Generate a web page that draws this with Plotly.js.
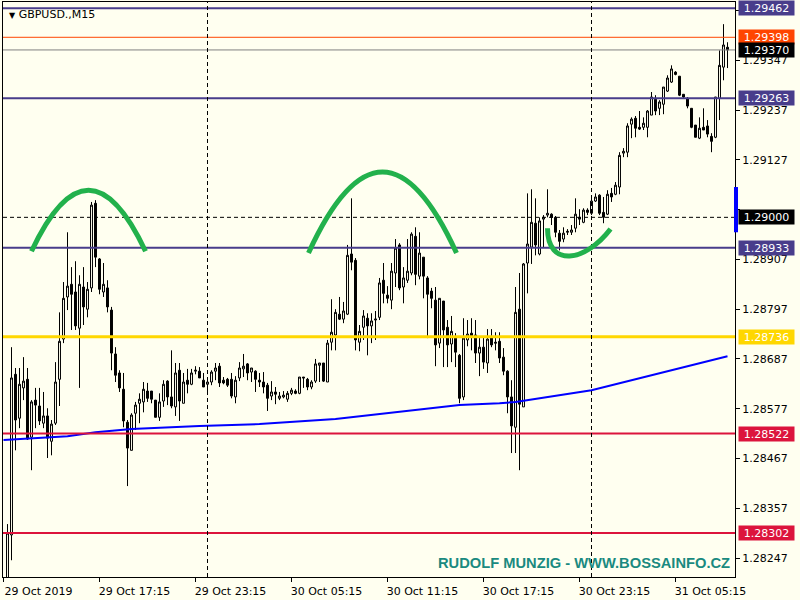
<!DOCTYPE html>
<html>
<head>
<meta charset="utf-8">
<script src="https://cdn.plot.ly/plotly-3.0.1.min.js"></script>
<style>html,body{margin:0;padding:0;background:#FFFFF0;}#chart{width:800px;height:600px;}</style>
</head>
<body>
<div id="chart"></div>
<script>
// GBPUSD M15 candles, 29 Oct 11:30 -> 31 Oct 08:30
const openP = [1.28176,1.28298,1.28653,1.28556,1.28623,1.28642,1.28514,1.28596,1.28583,1.28545,1.28561,1.28505,1.28545,1.28642,1.28731,1.28824,1.28852,1.28835,1.28755,1.28846,1.28797,1.28844,1.29031,1.28908,1.28835,1.28844,1.28795,1.28698,1.28656,1.28620,1.28547,1.28485,1.28567,1.28589,1.28592,1.28616,1.28616,1.28596,1.28558,1.28594,1.28638,1.28603,1.28581,1.28662,1.28589,1.28640,1.28631,1.28660,1.28660,1.28640,1.28631,1.28636,1.28660,1.28671,1.28640,1.28642,1.28642,1.28603,1.28645,1.28665,1.28676,1.28658,1.28660,1.28640,1.28636,1.28629,1.28605,1.28614,1.28600,1.28603,1.28598,1.28611,1.28616,1.28611,1.28647,1.28642,1.28625,1.28638,1.28673,1.28678,1.28636,1.28724,1.28740,1.28786,1.28775,1.28786,1.28919,1.28905,1.28724,1.28757,1.28777,1.28760,1.28773,1.28779,1.28861,1.28828,1.28817,1.28877,1.28939,1.28846,1.28861,1.28877,1.28958,1.28870,1.28912,1.28866,1.28837,1.28817,1.28722,1.28815,1.28757,1.28720,1.28733,1.28695,1.28603,1.28729,1.28744,1.28740,1.28700,1.28713,1.28678,1.28735,1.28724,1.28726,1.28691,1.28660,1.28603,1.28536,1.28797,1.28581,1.28899,1.28934,1.28987,1.28919,1.28996,1.29005,1.29007,1.29000,1.28965,1.28952,1.28967,1.28967,1.28976,1.29000,1.28989,1.29016,1.29009,1.29036,1.29049,1.29011,1.29007,1.29053,1.29051,1.29067,1.29142,1.29144,1.29206,1.29219,1.29199,1.29199,1.29199,1.29226,1.29261,1.29241,1.29250,1.29279,1.29299,1.29321,1.29312,1.29272,1.29263,1.29241,1.29204,1.29175,1.29199,1.29202,1.29179,1.29177,1.29263,1.29332,1.29376];
const highP = [1.28322,1.28713,1.28667,1.28667,1.28691,1.28667,1.28596,1.28623,1.28623,1.28614,1.28578,1.28552,1.28680,1.28790,1.28857,1.28967,1.28890,1.28903,1.28872,1.28890,1.28857,1.29034,1.29038,1.28910,1.28899,1.28861,1.28802,1.28713,1.28662,1.28656,1.28552,1.28567,1.28592,1.28611,1.28636,1.28634,1.28616,1.28596,1.28611,1.28640,1.28640,1.28706,1.28678,1.28678,1.28656,1.28665,1.28665,1.28671,1.28669,1.28656,1.28645,1.28662,1.28678,1.28678,1.28647,1.28645,1.28656,1.28649,1.28680,1.28698,1.28678,1.28667,1.28662,1.28656,1.28658,1.28634,1.28638,1.28625,1.28614,1.28616,1.28616,1.28623,1.28620,1.28647,1.28647,1.28645,1.28640,1.28687,1.28678,1.28678,1.28729,1.28819,1.28797,1.28824,1.28813,1.28939,1.29042,1.28910,1.28762,1.28795,1.28788,1.28788,1.28793,1.28866,1.28899,1.28848,1.28899,1.28952,1.28943,1.28890,1.28952,1.28967,1.28978,1.28967,1.28912,1.28870,1.28844,1.28846,1.28821,1.28815,1.28773,1.28782,1.28744,1.28698,1.28777,1.28773,1.28777,1.28773,1.28737,1.28735,1.28753,1.28753,1.28746,1.28746,1.28711,1.28662,1.28640,1.28846,1.28877,1.28899,1.29053,1.29062,1.29042,1.29000,1.29005,1.29062,1.29009,1.29003,1.28972,1.28978,1.28974,1.28983,1.29042,1.29018,1.29020,1.29020,1.29049,1.29053,1.29051,1.29045,1.29060,1.29065,1.29078,1.29144,1.29153,1.29208,1.29221,1.29224,1.29235,1.29221,1.29237,1.29277,1.29270,1.29259,1.29288,1.29314,1.29336,1.29323,1.29312,1.29272,1.29266,1.29241,1.29204,1.29221,1.29241,1.29215,1.29186,1.29266,1.29369,1.29427,1.29387];
const lowP = [1.28154,1.28242,1.28485,1.28534,1.28596,1.28508,1.28441,1.28534,1.28541,1.28534,1.28468,1.28474,1.28541,1.28583,1.28722,1.28795,1.28751,1.28751,1.28623,1.28762,1.28779,1.28835,1.28890,1.28830,1.28824,1.28790,1.28662,1.28636,1.28614,1.28536,1.28406,1.28485,1.28530,1.28545,1.28569,1.28592,1.28589,1.28558,1.28550,1.28581,1.28585,1.28578,1.28561,1.28550,1.28589,1.28611,1.28629,1.28653,1.28645,1.28625,1.28609,1.28629,1.28640,1.28625,1.28631,1.28625,1.28600,1.28589,1.28638,1.28647,1.28640,1.28636,1.28614,1.28625,1.28611,1.28572,1.28596,1.28587,1.28596,1.28600,1.28592,1.28607,1.28609,1.28609,1.28623,1.28618,1.28620,1.28634,1.28636,1.28636,1.28636,1.28706,1.28706,1.28773,1.28766,1.28784,1.28883,1.28706,1.28704,1.28729,1.28695,1.28722,1.28729,1.28773,1.28810,1.28810,1.28797,1.28846,1.28839,1.28810,1.28855,1.28872,1.28850,1.28863,1.28821,1.28733,1.28799,1.28671,1.28711,1.28669,1.28669,1.28680,1.28669,1.28589,1.28596,1.28715,1.28706,1.28678,1.28649,1.28665,1.28656,1.28713,1.28706,1.28678,1.28651,1.28567,1.28479,1.28479,1.28441,1.28581,1.28832,1.28897,1.28916,1.28916,1.28934,1.29000,1.28983,1.28956,1.28927,1.28945,1.28961,1.28961,1.28967,1.28983,1.28987,1.29005,1.29005,1.29034,1.29005,1.28987,1.29005,1.29034,1.29049,1.29051,1.29133,1.29133,1.29175,1.29177,1.29193,1.29193,1.29177,1.29226,1.29226,1.29226,1.29228,1.29277,1.29297,1.29314,1.29268,1.29263,1.29241,1.29197,1.29177,1.29173,1.29193,1.29177,1.29144,1.29175,1.29215,1.29303,1.29330];
const closeP = [1.28302,1.28645,1.28552,1.28631,1.28638,1.28510,1.28592,1.28585,1.28550,1.28561,1.28512,1.28543,1.28636,1.28726,1.28821,1.28848,1.28830,1.28760,1.28852,1.28802,1.28841,1.29027,1.28912,1.28841,1.28852,1.28802,1.28700,1.28651,1.28623,1.28550,1.28490,1.28563,1.28585,1.28598,1.28620,1.28600,1.28598,1.28558,1.28592,1.28631,1.28603,1.28583,1.28656,1.28594,1.28636,1.28631,1.28656,1.28662,1.28645,1.28625,1.28636,1.28658,1.28667,1.28634,1.28634,1.28629,1.28605,1.28640,1.28667,1.28671,1.28656,1.28667,1.28642,1.28636,1.28625,1.28600,1.28614,1.28609,1.28605,1.28607,1.28611,1.28618,1.28611,1.28647,1.28645,1.28625,1.28636,1.28676,1.28678,1.28638,1.28722,1.28746,1.28790,1.28775,1.28793,1.28916,1.28901,1.28729,1.28748,1.28782,1.28760,1.28771,1.28775,1.28855,1.28832,1.28821,1.28881,1.28932,1.28844,1.28866,1.28881,1.28963,1.28874,1.28921,1.28870,1.28830,1.28821,1.28718,1.28821,1.28751,1.28718,1.28748,1.28702,1.28600,1.28733,1.28742,1.28735,1.28700,1.28713,1.28680,1.28731,1.28718,1.28722,1.28689,1.28660,1.28603,1.28539,1.28790,1.28587,1.28897,1.28941,1.28989,1.28939,1.28992,1.29000,1.29009,1.29000,1.28967,1.28947,1.28965,1.28969,1.28972,1.29007,1.28996,1.29016,1.29011,1.29036,1.29045,1.29009,1.29000,1.29051,1.29045,1.29071,1.29137,1.29146,1.29202,1.29217,1.29197,1.29195,1.29208,1.29235,1.29266,1.29235,1.29255,1.29288,1.29308,1.29328,1.29316,1.29270,1.29266,1.29246,1.29199,1.29177,1.29197,1.29193,1.29184,1.29168,1.29266,1.29336,1.29381,1.29370];

// moving average (read at sample bars)
const maBars = [-1,8,15,22,31,48,63,82,101,113,123,127,146,164,180];
const maValues = [1.28508,1.28512,1.28516,1.28525,1.28532,1.28539,1.28543,1.28554,1.28574,1.28585,1.28589,1.28592,1.28618,1.28658,1.28693];

// time axis labels (bar index of each label)
const tickBars = [-1,23,47,71,95,119,143,167];
const tickLabels = ['29 Oct 2019','29 Oct 17:15','29 Oct 23:15','30 Oct 05:15','30 Oct 11:15','30 Oct 17:15','30 Oct 23:15','31 Oct 05:15'];
const daySeparators = [50,146];

// price axis labels (labels hidden behind price boxes are left blank)
const priceTicks = [1.28247,1.28357,1.28467,1.28577,1.28687,1.28797,1.28907,1.29017,1.29127,1.29237,1.29347,1.29457];
const priceTickText = ['1.28247','1.28357','1.28467','1.28577','1.28687','1.28797','1.28907','','1.29127','1.29237','1.29347',''];

// horizontal levels
const levels      = [1.29462,1.29398,1.29370,1.29263,1.29000,1.28933,1.28736,1.28522,1.28302];
const levelLine   = ['#483D8B','#FF4500','#808080','#483D8B','#000000','#483D8B','#FFD700','#DC143C','#DC143C'];
const levelBox    = ['#483D8B','#FF4500','#000000','#483D8B','#000000','#483D8B','#FFD700','#DC143C','#DC143C'];
const levelWidth  = [2,1,1,2,1,2,3,2,2];
const levelDash   = ['solid','solid','solid','solid','4px,3px','solid','solid','solid','solid'];

// hand-drawn green arcs (bar index, price)
const arcLeft  = [[6,1.28925],[20.25,1.29195],[34.5,1.28925]];
const arcMid   = [[75.25,1.28921],[93.75,1.29279],[112.25,1.28921]];
const arcCup   = [[135,1.28976],[135,1.28888],[144.5,1.28901],[150.75,1.28974]];

const bg = '#FFFFF0';
const bars = openP.map((_, i) => i);

const candles = {
  type: 'candlestick', x: bars, open: openP, high: highP, low: lowP, close: closeP,
  increasing: {line: {color: '#000000', width: 1}, fillcolor: bg},
  decreasing: {line: {color: '#000000', width: 1}, fillcolor: '#000000'},
  whiskerwidth: 0, hoverinfo: 'none', showlegend: false
};
const ma = {
  type: 'scatter', mode: 'lines', x: maBars, y: maValues,
  line: {color: '#0000FF', width: 2}, hoverinfo: 'none', showlegend: false
};

const shapes = [];
levels.forEach((p, k) => {
  shapes.push({type: 'line', xref: 'paper', x0: 0, x1: 1, yref: 'y', y0: p, y1: p,
    line: {color: levelLine[k], width: levelWidth[k], dash: levelDash[k]}});
});
daySeparators.forEach(b => {
  shapes.push({type: 'line', xref: 'x', x0: b, x1: b, yref: 'paper', y0: 0, y1: 1,
    line: {color: '#000000', width: 1, dash: '4px,3px'}});
});
const q = a => `M ${a[0][0]},${a[0][1]} Q ${a[1][0]},${a[1][1]} ${a[2][0]},${a[2][1]}`;
const c = a => `M ${a[0][0]},${a[0][1]} C ${a[1][0]},${a[1][1]} ${a[2][0]},${a[2][1]} ${a[3][0]},${a[3][1]}`;
[q(arcLeft), q(arcMid), c(arcCup)].forEach(p => {
  shapes.push({type: 'path', xref: 'x', yref: 'y', path: p, line: {color: '#22B14C', width: 5}});
});
// blue marker on price scale near 1.29000
shapes.push({type: 'rect', xref: 'paper', xsizemode: 'pixel', xanchor: 1, x0: -1, x1: 3,
  yref: 'y', y0: 1.28967, y1: 1.29067, fillcolor: '#0000FF', line: {width: 0}});

const annotations = levels.map((p, k) => ({
  xref: 'paper', x: 1, xanchor: 'left', xshift: 3, yref: 'y', y: p, yanchor: 'middle',
  text: p.toFixed(5), showarrow: false, bgcolor: levelBox[k], borderpad: 1,
  width: 53, height: 12, align: 'center',
  font: {family: 'DejaVu Sans', size: 11, color: '#FFFFFF'}
}));
annotations.push({
  xref: 'paper', x: 0, xanchor: 'left', xshift: 4, yref: 'paper', y: 1, yanchor: 'top', yshift: -4,
  text: '<span style="font-size:8px">▼</span> GBPUSD.,M15', showarrow: false,
  font: {family: 'DejaVu Sans', size: 11, color: '#000000'}
});
annotations.push({
  xref: 'paper', x: 1, xanchor: 'right', xshift: -3, yref: 'paper', y: 0.0243, yanchor: 'middle',
  text: '<b>RUDOLF MUNZIG - WWW.BOSSAINFO.CZ</b>', showarrow: false,
  font: {family: 'Liberation Sans', size: 14.7, color: '#1A8A80'}
});

const layout = {
  width: 800, height: 600,
  margin: {l: 3, r: 65, t: 2, b: 23, pad: 0},
  paper_bgcolor: bg, plot_bgcolor: bg,
  font: {family: 'DejaVu Sans', size: 11, color: '#000000'},
  showlegend: false,
  xaxis: {
    range: [-1.125, 181.875], tickmode: 'array', tickvals: tickBars, ticktext: tickLabels,
    ticks: 'outside', ticklen: 4, tickcolor: '#000000', ticklabelshift: 35,
    showgrid: false, zeroline: false, showline: true, linecolor: '#000000', linewidth: 1, mirror: true,
    rangeslider: {visible: false}, fixedrange: true
  },
  yaxis: {
    side: 'right', range: [1.28205, 1.29476], tickmode: 'array', tickvals: priceTicks,
    ticktext: priceTickText,
    ticks: 'outside', ticklen: 4, tickcolor: '#000000',
    showgrid: false, zeroline: false, showline: true, linecolor: '#000000', linewidth: 1, mirror: true,
    fixedrange: true
  },
  shapes: shapes,
  annotations: annotations
};

Plotly.newPlot('chart', [candles, ma], layout, {staticPlot: true, displayModeBar: false});
</script>
</body>
</html>
